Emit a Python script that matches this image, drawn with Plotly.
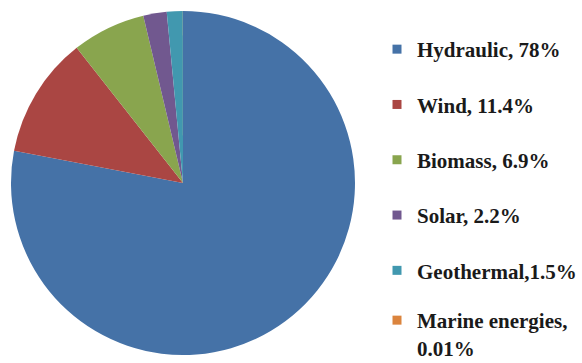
import plotly.graph_objects as go

labels = ["Hydraulic, 78%", "Wind, 11.4%", "Biomass, 6.9%", "Solar, 2.2%",
          "Geothermal,1.5%", "Marine energies,<br>0.01%"]
values = [78, 11.4, 6.9, 2.2, 1.5, 0.01]
colors = ["#4572A7", "#AA4643", "#89A54E", "#71588F", "#4198AF", "#DB843D"]

W, H = 582, 363
FONT = dict(family="Liberation Serif", size=21, color="#1a1a1a")
fig = go.Figure()
fig.add_trace(go.Pie(
    labels=labels, values=values, sort=False, direction="clockwise", rotation=0,
    marker=dict(colors=colors, line=dict(width=0)), textinfo="none",
    showlegend=False, hoverinfo="label",
    domain=dict(x=[11 / W, 355 / W], y=[(H - 355) / H, (H - 11) / H]),
))
for i, (lab, col) in enumerate(zip(labels, colors)):
    fig.add_trace(go.Scatter(
        x=[None], y=[None], mode="markers", name=f"<b>{lab}</b>", legendgroup=f"g{i}",
        marker=dict(symbol="square", size=9, color=col),
        legend="legend2" if i == len(labels) - 1 else "legend",
    ))

fig.update_layout(
    width=W, height=H, margin=dict(l=0, r=0, t=0, b=0, autoexpand=False),
    paper_bgcolor="white", plot_bgcolor="white",
    xaxis=dict(visible=False), yaxis=dict(visible=False),
    legend=dict(x=377 / W, y=(H - 29) / H, xanchor="left", yanchor="top",
                tracegroupgap=25, itemwidth=30, font=FONT,
                bgcolor="rgba(0,0,0,0)"),
    legend2=dict(x=377 / W, y=(H - 300) / H, xanchor="left", yanchor="top",
                 itemwidth=30, font=FONT, valign="top", bgcolor="rgba(0,0,0,0)"),
)
fig.write_html("out.html")
